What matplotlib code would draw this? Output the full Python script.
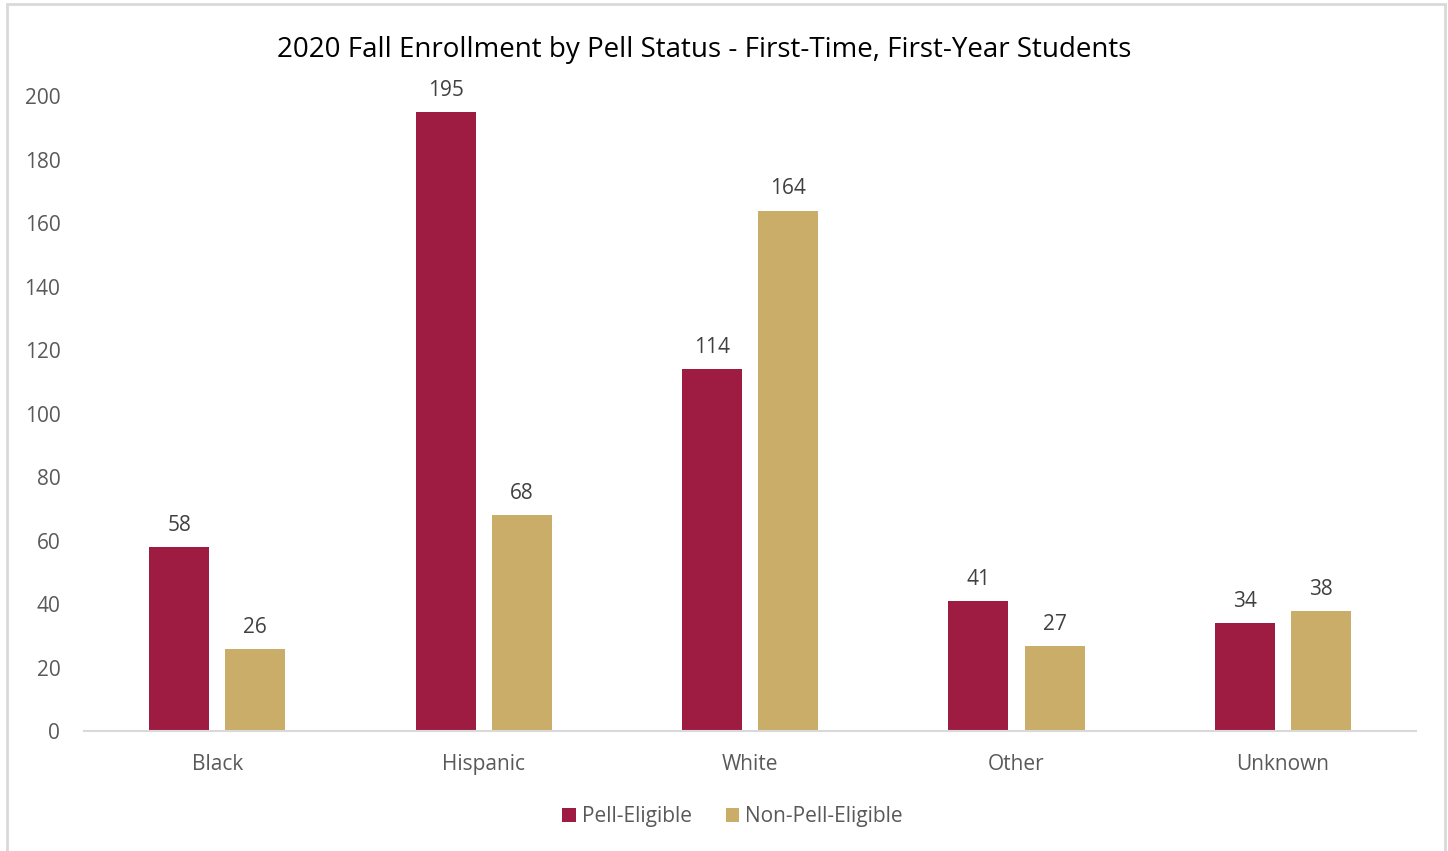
import matplotlib
matplotlib.use("Agg")
import matplotlib.pyplot as plt
from matplotlib.patches import Rectangle
import numpy as np

plt.rcParams['font.family'] = ['Open Sans', 'DejaVu Sans']

categories = ["Black", "Hispanic", "White", "Other", "Unknown"]
pell = [58, 195, 114, 41, 34]
non_pell = [26, 68, 164, 27, 38]
y_ticks = [0, 20, 40, 60, 80, 100, 120, 140, 160, 180, 200]

PELL_COLOR = "#9E1B42"
GOLD_COLOR = "#C9AD69"
TEXT_GRAY = "#595959"

fig = plt.figure(figsize=(14.48, 8.51), dpi=100)
ax = fig.add_axes([0.058, 0.1405, 0.92, 0.7465])

# outer chart frame
fig.patches.append(Rectangle((7 / 1448, -0.05), 1438 / 1448, 1.05 - 4 / 851,
                             transform=fig.transFigure, fill=False,
                             edgecolor="#D9D9D9", linewidth=2))

x = np.arange(len(categories))
width = 0.225
bars1 = ax.bar(x - 0.143, pell, width, color=PELL_COLOR, label="Pell-Eligible")
bars2 = ax.bar(x + 0.143, non_pell, width, color=GOLD_COLOR, label="Non-Pell-Eligible")

for bars in (bars1, bars2):
    for bar in bars:
        h = bar.get_height()
        ax.annotate(f"{h:.0f}", xy=(bar.get_x() + bar.get_width() / 2, h),
                    xytext=(0, 8), textcoords="offset points",
                    ha="center", va="bottom", fontsize=15, color="#404040")

ax.set_xlim(-0.5, len(categories) - 0.5)
ax.set_ylim(0, 200)
ax.set_yticks(y_ticks)
ax.set_xticks(x)
ax.set_xticklabels(categories)
ax.tick_params(axis="both", length=0, labelsize=15, labelcolor=TEXT_GRAY)
ax.tick_params(axis="y", pad=17)
ax.tick_params(axis="x", pad=16)
for side in ("top", "right", "left"):
    ax.spines[side].set_visible(False)
ax.spines["bottom"].set_color("#D9D9D9")
ax.spines["bottom"].set_linewidth(1.5)

fig.text(0.486, 0.941, "2020 Fall Enrollment by Pell Status - First-Time, First-Year Students",
         ha="center", va="center", fontsize=20, color="black")

leg = fig.legend(loc="center", bbox_to_anchor=(0.506, 0.040), ncol=2, frameon=False,
                 fontsize=15, handlelength=0.65, handleheight=0.65, handletextpad=0.3,
                 columnspacing=1.6)
for t in leg.get_texts():
    t.set_color(TEXT_GRAY)

fig.savefig("out.png", dpi=100)
